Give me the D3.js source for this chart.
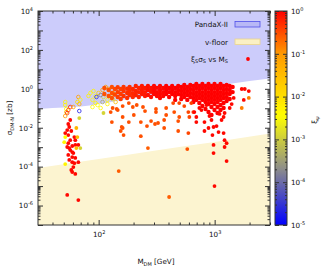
<!DOCTYPE html>
<html>
<head>
<meta charset="utf-8">
<script src="https://cdn.jsdelivr.net/npm/d3@7"></script>
<style>
body { margin: 0; background: #fff; }
text { font-family: "DejaVu Sans", sans-serif; font-size: 7.2px; fill: #111; }
</style>
</head>
<body>
<svg id="chart" width="327" height="273"></svg>
<script>
// PandaX-II exclusion curve (M in GeV, sigma in zb)
var pandaMass  = [30, 40, 50, 60, 70, 100, 200, 500, 1000, 2000, 3000];
var pandaSigma = [0.092, 0.103, 0.11, 0.116, 0.123, 0.165, 0.34, 0.77, 1.39, 2.5, 3.4];

// neutrino floor
var floorMass  = [30, 100, 300, 1000, 3000];
var floorSigma = [8.5e-5, 2.46e-4, 6.6e-4, 1.84e-3, 5.0e-3];

// dense band of points near the PandaX limit: mass, xi, sigmas
var bandMass = [112, 122, 130, 138, 146, 155, 164, 176, 185, 197, 209, 222, 236, 251, 266, 283, 300, 318, 338, 360,
                382, 405, 430, 457, 485, 515, 547, 581, 617, 655, 695, 738, 784, 834, 885, 939, 997, 1059,
                1124, 1194, 1268, 1348, 1429];
var bandXi = [0.3, 0.3, 0.3, 0.35, 0.4, 0.4, 0.45, 0.5, 0.5, 0.55, 0.6, 0.6, 0.7, 0.7, 0.8, 0.8, 0.9, 0.9, 0.9, 0.9,
              1, 1, 1, 1, 1, 1, 1, 1, 1, 1, 1, 1, 1, 1, 1, 1, 1, 1, 1, 1, 1, 1, 1];
var bandSigma = [
    [1.1, 0.54], [0.87, 0.43],
    [1.24, 0.61, 0.34], [0.98, 0.5], [1.2, 0.68, 0.38], [0.98, 0.54, 0.3], [1.24, 0.77, 0.43],
    [1.0, 0.61, 0.34], [1.24, 0.77, 0.48], [0.98, 0.6, 0.38], [1.39, 0.77, 0.48], [1.1, 0.68, 0.38],
    [1.39, 0.87, 0.54], [1.1, 0.68, 0.43], [1.39, 0.87, 0.48], [1.1, 0.7, 0.38], [1.39, 0.87, 0.54],
    [1.12, 0.68, 0.43], [1.39, 0.87, 0.54, 0.34], [1.1, 0.68, 0.43], [1.39, 0.87, 0.54], [1.1, 0.68, 0.38],
    [1.39, 0.87, 0.54], [1.1, 0.68, 0.43, 0.27], [1.39, 0.87, 0.54], [1.24, 0.77, 0.48, 0.3],
    [1.57, 0.98, 0.61, 0.38], [1.24, 0.77, 0.48, 0.27], [1.57, 0.98, 0.61, 0.38],
    [1.39, 0.87, 0.54, 0.34, 0.21], [1.77, 1.1, 0.68, 0.43, 0.27], [1.39, 0.87, 0.54, 0.34, 0.186],
    [1.77, 1.1, 0.68, 0.43, 0.27, 0.13], [1.39, 0.87, 0.54, 0.34, 0.21, 0.092],
    [1.77, 1.1, 0.68, 0.43, 0.27, 0.165, 0.064], [1.39, 0.87, 0.54, 0.34, 0.21, 0.116, 0.045],
    [1.77, 1.1, 0.68, 0.43, 0.27, 0.165, 0.081], [1.39, 0.87, 0.54, 0.34, 0.21, 0.116, 0.057],
    [1.77, 1.1, 0.68, 0.43, 0.27, 0.147, 0.081], [1.39, 0.87, 0.54, 0.34, 0.186, 0.103],
    [1.57, 0.98, 0.61, 0.38, 0.236], [1.39, 0.87, 0.54, 0.3], [1.24, 0.68]
];

// other filled points: mass, sigma, xi
var dotPoints = [
    [53.6, 0.0076, 0.9], [54.7, 0.0155, 0.9], [56.9, 0.0249, 0.9], [55.8, 0.0109, 0.9], [58.1, 0.0068, 0.9],
    [54.7, 0.0042, 0.9], [51.5, 0.0053, 0.9], [61.7, 0.0033, 0.9], [56.9, 0.0023, 0.9], [62.9, 0.0023, 0.9],
    [54.7, 0.0016, 0.9], [59.2, 0.00115, 0.9], [62.9, 0.0013, 0.9], [66.8, 0.0013, 0.9], [53.6, 0.00102, 0.9],
    [55.8, 0.0009, 0.9], [56.9, 0.00071, 0.9], [59.2, 0.00056, 0.9], [60.5, 0.0005, 0.9], [54.7, 0.0004, 0.9],
    [59.2, 0.00031, 0.9], [62.9, 0.00028, 0.9], [55.8, 0.00022, 0.9], [59.2, 0.00017, 0.9], [61.7, 0.00015, 0.9],
    [66.8, 0.00017, 0.9], [60.5, 9.5e-5, 0.9], [58.1, 6.7e-5, 0.9], [59.2, 5.3e-5, 0.9], [62.9, 4.2e-5, 0.9],
    [53.6, 3.5e-6, 0.9], [66.8, 1.9e-6, 0.9],
    [51.5, 0.0033, 0.004], [50.5, 0.0018, 0.005], [51.5, 0.000136, 0.005],
    [65.5, 0.0033, 0.03], [64.2, 0.0097, 0.04], [64.2, 0.0009, 0.03],
    [68.1, 0.0315, 0.0012], [69.5, 0.0009, 0.0012], [110, 0.057, 0.0012],
    [130, 0.0196, 0.3], [161, 0.0355, 0.3], [201, 0.045, 0.3], [231, 0.0196, 0.3], [283, 0.0221, 0.3],
    [161, 0.0097, 0.3], [164, 0.0042, 0.3], [231, 0.0037, 0.3], [261, 0.0122, 0.3], [325, 0.0175, 0.3],
    [367, 0.0249, 0.3], [485, 0.0221, 0.3], [485, 0.0068, 0.3], [266, 0.0009, 0.25], [149, 5.9e-5, 0.25],
    [405, 2.75e-6, 0.25], [132, 0.103, 0.3], [146, 0.081, 0.3], [182, 0.186, 0.3], [161, 0.13, 0.3],
    [197, 0.116, 0.3], [213, 0.147, 0.3], [241, 0.116, 0.3], [312, 0.092, 0.3], [382, 0.103, 0.3],
    [439, 0.186, 0.35], [495, 0.186, 0.35], [547, 0.13, 0.35], [629, 0.186, 0.4], [251, 0.072, 0.3],
    [312, 0.064, 0.3], [448, 0.064, 0.3], [593, 0.064, 0.35], [655, 0.064, 0.4], [382, 0.045, 0.3],
    [495, 0.0355, 0.3], [605, 0.0355, 0.35], [182, 0.0196, 0.3], [306, 0.0155, 0.3], [158, 0.0109, 0.3],
    [155, 0.0068, 0.3], [367, 0.0097, 0.3], [593, 0.0053, 0.35], [581, 0.0008, 0.3], [127, 0.064, 0.3],
    [143, 0.092, 0.3],
    [668, 0.064, 0.9], [695, 0.0355, 0.9], [695, 0.0196, 0.9], [769, 0.081, 0.9], [850, 0.147, 0.9],
    [738, 0.103, 0.9], [817, 0.0196, 0.9], [939, 0.0249, 0.9], [885, 0.0097, 0.9], [817, 0.0068, 0.9],
    [978, 0.0109, 0.9], [1038, 0.0122, 0.9], [1080, 0.006, 0.9], [957, 0.0042, 0.9], [1147, 0.0249, 0.9],
    [1194, 0.0355, 0.9], [1218, 0.057, 0.9], [1194, 0.0053, 0.9], [1218, 0.0023, 0.9], [978, 0.0013, 0.9],
    [1218, 0.00102, 0.9], [1268, 0.0016, 0.9], [978, 0.0005, 0.9], [1268, 0.000194, 0.9], [997, 1.0e-5, 0.9],
    [902, 0.04, 0.9], [1102, 0.051, 0.9], [1348, 0.103, 0.9], [1402, 0.165, 0.9], [1459, 0.34, 0.9],
    [1712, 0.98, 0.9], [1818, 0.98, 0.9], [1969, 0.77, 0.9], [1782, 0.27, 0.9],
    [1712, 0.103, 0.15], [1969, 0.34, 0.15]
];

// open circles: mass, sigma, xi
var ringPoints = [
    [51.5, 0.21, 0.005], [51.5, 0.147, 0.005], [52.6, 0.092, 0.006], [52.6, 0.064, 0.03],
    [56.9, 0.116, 0.6], [54.7, 0.081, 0.3], [53.6, 0.057, 0.6], [51.5, 0.04, 0.1], [60.5, 0.116, 0.08],
    [66.8, 0.38, 0.08], [69.5, 0.27, 0.005], [68.1, 0.165, 0.06], [65.5, 0.21, 0.01], [68.1, 0.072, 2e-5],
    [85, 0.61, 0.004], [90.2, 0.77, 0.005], [94, 0.43, 0.004], [88.5, 0.27, 0.004], [99.7, 0.61, 0.02],
    [108, 0.87, 0.1], [115, 1.24, 0.1], [122, 0.98, 0.12], [110, 0.38, 0.0012], [104, 0.48, 1.5e-4],
    [108, 0.21, 4e-4], [119, 0.27, 0.005], [132, 0.61, 0.1], [140, 0.77, 0.12], [97.8, 0.147, 0.004],
    [88.5, 0.116, 0.004], [119, 0.165, 0.006], [140, 0.21, 0.03], [127, 0.43, 0.008], [149, 0.87, 0.2],
    [132, 0.3, 0.0015], [95.8, 0.38, 3e-5], [81.7, 0.43, 0.006], [104, 0.103, 0.005], [94, 0.186, 0.005]
];

var xMajor = [100, 1000];
var xMinor = [40, 50, 60, 70, 80, 90, 200, 300, 400, 500, 600, 700, 800, 900, 2000, 3000];
var yLabelled = [1e-6, 1e-4, 1e-2, 1, 1e2, 1e4];
var cbMajor = [1e-5, 1e-4, 1e-3, 1e-2, 1e-1, 1];

var paletteStops  = [-5, -3.7, -2.45, -1, 0];
var paletteColors = ['#0000ff', '#8c8c8c', '#ffff00', '#ff9900', '#ff0000'];

var L = 38, R = 270, T = 11, B = 225;
var svg = d3.select('#chart');
var x = d3.scaleLog().domain([30, 3000]).range([L, R]);
var y = d3.scaleLog().domain([1e-7, 1e4]).range([B, T]);
var cb = d3.scaleLog().domain([1e-5, 1]).range([B, T]);
var heat = d3.scaleLinear().domain(paletteStops).range(paletteColors);
function col(xi) { return heat(Math.log10(xi)); }

function minorTicks(lo, hi) {
    var out = [];
    for (var e = lo; e < hi; e++) {
        for (var k = 2; k < 10; k++) out.push(k * Math.pow(10, e));
    }
    return out;
}
function decades(lo, hi) {
    var out = [];
    for (var e = lo; e <= hi; e++) out.push(Math.pow(10, e));
    return out;
}

var defs = svg.append('defs');
defs.append('clipPath').attr('id', 'clip').append('rect')
    .attr('x', L).attr('y', T).attr('width', R - L).attr('height', B - T);

var plot = svg.append('g').attr('clip-path', 'url(#clip)');

// shaded regions
plot.append('path')
    .datum(d3.zip(pandaMass, pandaSigma))
    .attr('fill', '#ccccfb')
    .attr('d', d3.area().curve(d3.curveMonotoneX)
        .x(function (d) { return x(d[0]); })
        .y0(T)
        .y1(function (d) { return y(d[1]); }));
plot.append('path')
    .datum(d3.zip(floorMass, floorSigma))
    .attr('fill', '#fcf4d0')
    .attr('d', d3.area().curve(d3.curveMonotoneX)
        .x(function (d) { return x(d[0]); })
        .y0(B)
        .y1(function (d) { return y(d[1]); }));

// points
plot.selectAll('circle.ring').data(ringPoints).enter().append('circle')
    .attr('class', 'ring')
    .attr('cx', function (d) { return x(d[0]); })
    .attr('cy', function (d) { return y(d[1]); })
    .attr('r', 1.8)
    .attr('fill', 'none')
    .attr('stroke', function (d) { return col(d[2]); })
    .attr('stroke-width', 0.8);

var bandPoints = [];
bandMass.forEach(function (m, i) {
    bandSigma[i].forEach(function (s) { bandPoints.push([m, s, bandXi[i]]); });
});

plot.selectAll('circle.band').data(bandPoints).enter().append('circle')
    .attr('class', 'band')
    .attr('cx', function (d) { return x(d[0]); })
    .attr('cy', function (d) { return y(d[1]); })
    .attr('r', 2.2)
    .attr('fill', function (d) { return col(d[2]); });

plot.selectAll('circle.dot').data(dotPoints).enter().append('circle')
    .attr('class', 'dot')
    .attr('cx', function (d) { return x(d[0]); })
    .attr('cy', function (d) { return y(d[1]); })
    .attr('r', 1.9)
    .attr('fill', function (d) { return col(d[2]); });

// axes
function stripDomain(g) { g.select('.domain').remove(); g.selectAll('line').attr('stroke', '#333'); }
function powerLabels(g) {
    g.selectAll('.tick text').each(function (d) {
        var t = d3.select(this);
        if (t.text() === '') return;
        t.text('10');
        t.append('tspan').attr('dy', -3).attr('font-size', '5px').text(Math.round(Math.log10(d)));
    });
}

svg.append('g').attr('transform', 'translate(0,' + B + ')')
    .call(d3.axisBottom(x).tickValues(xMinor).tickSize(-2.5).tickFormat(''))
    .call(stripDomain);
svg.append('g').attr('transform', 'translate(0,' + B + ')')
    .call(d3.axisBottom(x).tickValues(xMajor).tickSize(-5).tickPadding(6.5).tickFormat(function () { return 'x'; }))
    .call(stripDomain).call(powerLabels);
svg.append('g').attr('transform', 'translate(0,' + T + ')')
    .call(d3.axisBottom(x).tickValues(xMinor).tickSize(2.5).tickFormat(''))
    .call(stripDomain);
svg.append('g').attr('transform', 'translate(0,' + T + ')')
    .call(d3.axisBottom(x).tickValues(xMajor).tickSize(5).tickFormat(''))
    .call(stripDomain);

svg.append('g').attr('transform', 'translate(' + L + ',0)')
    .call(d3.axisLeft(y).tickValues(minorTicks(-7, 4)).tickSize(-2.5).tickFormat(''))
    .call(stripDomain);
svg.append('g').attr('transform', 'translate(' + L + ',0)')
    .call(d3.axisLeft(y).tickValues(decades(-7, 4)).tickSize(-5).tickPadding(5)
        .tickFormat(function (d) { return yLabelled.indexOf(d) >= 0 ? 'x' : ''; }))
    .call(stripDomain).call(powerLabels);
svg.append('g').attr('transform', 'translate(' + R + ',0)')
    .call(d3.axisLeft(y).tickValues(minorTicks(-7, 4)).tickSize(2.5).tickFormat(''))
    .call(stripDomain);
svg.append('g').attr('transform', 'translate(' + R + ',0)')
    .call(d3.axisLeft(y).tickValues(decades(-7, 4)).tickSize(5).tickFormat(''))
    .call(stripDomain);

svg.append('rect').attr('x', L).attr('y', T).attr('width', R - L).attr('height', B - T)
    .attr('fill', 'none').attr('stroke', '#333').attr('stroke-width', 1);

// legend
var legX = 228;
var leg = svg.append('g');
leg.append('text').attr('x', legX).attr('y', 27).attr('text-anchor', 'end').text('PandaX-II');
leg.append('rect').attr('x', 235).attr('y', 21.5).attr('width', 25).attr('height', 5.5)
    .attr('fill', '#b8b8f6').attr('stroke', '#5050e8').attr('stroke-width', 0.8);
leg.append('text').attr('x', legX).attr('y', 44.5).attr('text-anchor', 'end').text('v-floor');
leg.append('rect').attr('x', 235).attr('y', 39).attr('width', 25).attr('height', 5.5)
    .attr('fill', '#fbf0c4').attr('stroke', '#ecd58c').attr('stroke-width', 0.8);
var lt = leg.append('text').attr('x', legX).attr('y', 61.5).attr('text-anchor', 'end');
lt.append('tspan').text('ξ');
lt.append('tspan').attr('dy', 1.5).attr('font-size', '5px').text('S');
lt.append('tspan').attr('dy', -1.5).text('σ');
lt.append('tspan').attr('dy', 1.5).attr('font-size', '5px').text('S');
lt.append('tspan').attr('dy', -1.5).text(' vs M');
lt.append('tspan').attr('dy', 1.5).attr('font-size', '5px').text('S');
leg.append('circle').attr('cx', 248).attr('cy', 59).attr('r', 1.9).attr('fill', '#ff0000');

// axis titles
var xl = svg.append('text').attr('x', 156).attr('y', 264).attr('text-anchor', 'middle');
xl.append('tspan').text('M');
xl.append('tspan').attr('dy', 1.5).attr('font-size', '5px').text('DM');
xl.append('tspan').attr('dy', -1.5).text(' [GeV]');

var yl = svg.append('text').attr('transform', 'translate(12,118) rotate(-90)').attr('text-anchor', 'middle');
yl.append('tspan').text('σ');
yl.append('tspan').attr('dy', 1.5).attr('font-size', '5px').text('DM-N');
yl.append('tspan').attr('dy', -1.5).text(' [zb]');

// colour box
var cbL = 275, cbR = 287;
var grad = defs.append('linearGradient').attr('id', 'cbgrad')
    .attr('x1', 0).attr('y1', 1).attr('x2', 0).attr('y2', 0);
grad.selectAll('stop').data(d3.range(0, 1.0001, 0.02)).enter().append('stop')
    .attr('offset', function (d) { return d; })
    .attr('stop-color', function (d) { return heat(-5 + 5 * d); });
svg.append('rect').attr('x', cbL).attr('y', T).attr('width', cbR - cbL).attr('height', B - T)
    .attr('fill', 'url(#cbgrad)');
svg.append('g').attr('transform', 'translate(' + cbL + ',0)')
    .call(d3.axisRight(cb).tickValues(minorTicks(-5, 0)).tickSize(2).tickFormat(''))
    .call(stripDomain);
svg.append('g').attr('transform', 'translate(' + cbL + ',0)')
    .call(d3.axisRight(cb).tickValues(cbMajor).tickSize(4).tickFormat(''))
    .call(stripDomain);
svg.append('g').attr('transform', 'translate(' + cbR + ',0)')
    .call(d3.axisRight(cb).tickValues(minorTicks(-5, 0)).tickSize(-2).tickFormat(''))
    .call(stripDomain);
svg.append('g').attr('transform', 'translate(' + cbR + ',0)')
    .call(d3.axisRight(cb).tickValues(cbMajor).tickSize(-4).tickPadding(4).tickFormat(function () { return 'x'; }))
    .call(stripDomain).call(powerLabels);
svg.append('rect').attr('x', cbL).attr('y', T).attr('width', cbR - cbL).attr('height', B - T)
    .attr('fill', 'none').attr('stroke', '#333').attr('stroke-width', 1);

var cl = svg.append('text').attr('transform', 'translate(317,120) rotate(-90)').attr('text-anchor', 'middle');
cl.append('tspan').text('ξ');
cl.append('tspan').attr('dy', 1.5).attr('font-size', '5px').text('ψ');
</script>
</body>
</html>
